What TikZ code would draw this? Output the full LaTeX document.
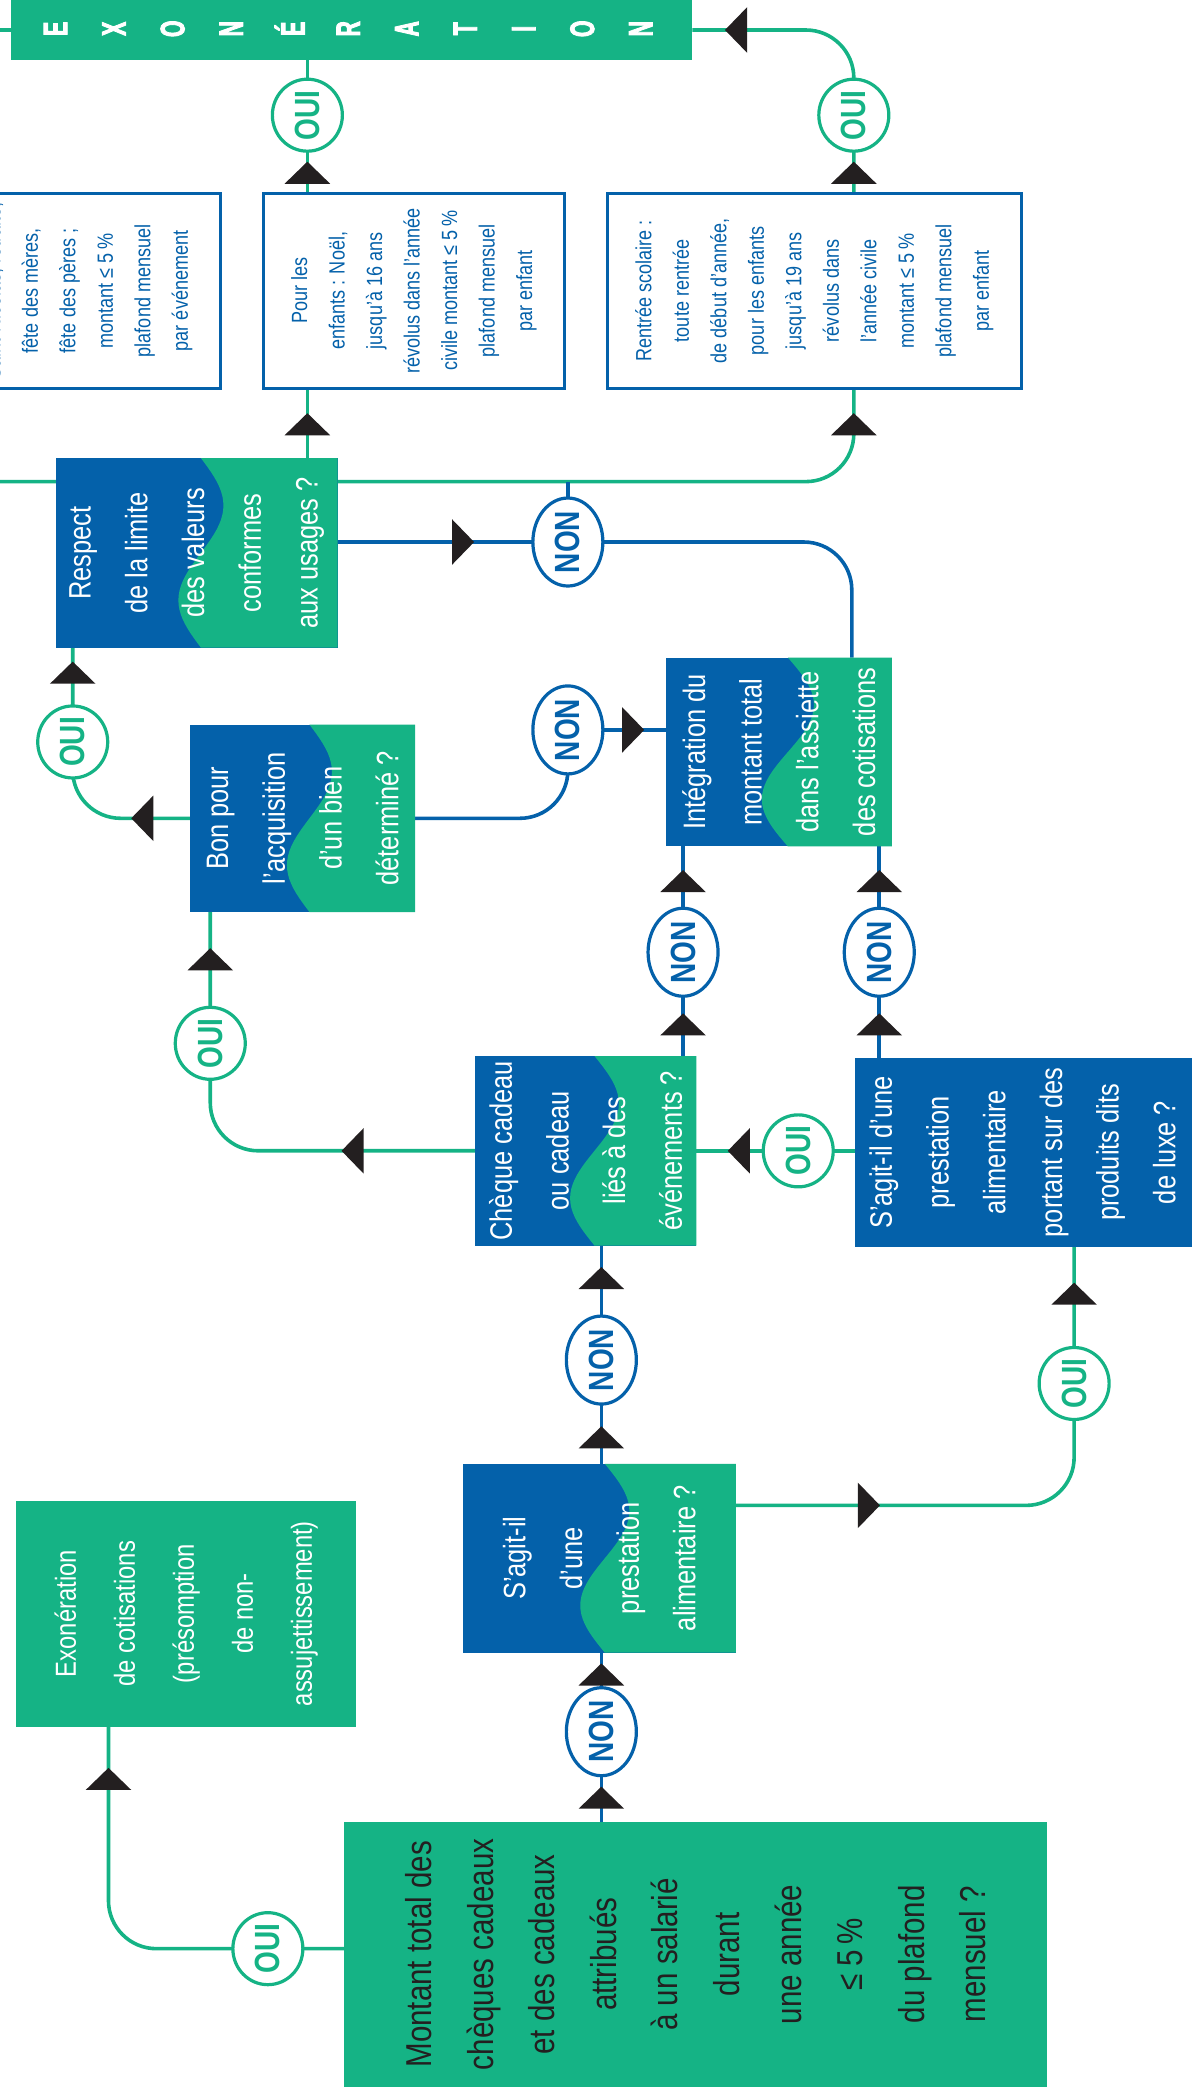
\documentclass[tikz,border=0pt]{standalone}
\usepackage{fontspec}
\setmainfont{Liberation Sans}[FakeStretch=0.82]
\newfontfamily\barfont{Liberation Sans}[FakeStretch=0.62,FakeBold=2.5]
\newfontfamily\ouifont{Liberation Sans}[FakeStretch=0.8]
\usetikzlibrary{shapes.geometric,fit,calc}
\definecolor{gr}{HTML}{15B385}
\definecolor{bl}{HTML}{0461AA}
\definecolor{ink}{HTML}{231F20}
\pgfdeclarelayer{bg}
\pgfsetlayers{bg,main}
% green wave region of a two-tone box: x1 y1 x2 y2 centre amplitude
\newcommand{\wavefill}[6]{\fill[gr] plot[domain=0:1,samples=41,variable=\wv] ({#1+(#3-#1)*(#5+#6*sin(360*\wv))},{#2+(#4-#2)*\wv}) -- (#3,#4) -- (#3,#2) -- cycle;}
\newcommand{\arrUp}[2]{\fill[ink] (#1-17,#2+16.5) -- (#1,#2) -- (#1+17,#2+16.5) -- cycle;}
\newcommand{\arrLeft}[2]{\fill[ink] (#1+16.5,#2-17) -- (#1,#2) -- (#1+16.5,#2+17) -- cycle;}
\newcommand{\arrRight}[2]{\fill[ink] (#1-16.5,#2-17) -- (#1,#2) -- (#1-16.5,#2+17) -- cycle;}
\begin{document}
\begin{tikzpicture}[x=1.33933pt,y=-1.33929pt,
  gline/.style={draw=gr,line width=3.6pt},
  bline/.style={draw=bl,line width=3.6pt},
  ouinode/.style={ellipse,draw=gr,fill=white,line width=3.2pt,minimum width=70pt,minimum height=72pt,inner sep=0pt,text=gr,font=\ouifont\bfseries\fontsize{35}{35}\selectfont},
  nonnode/.style={ouinode,draw=bl,text=bl},
  boxfit/.style={inner sep=0pt,outer sep=0pt},
  smallbox/.style={boxfit,draw=bl,line width=3pt,fill=white},
  midtext/.style={rotate=90,align=center,text=white,font=\fontsize{31}{56.7}\selectfont},
  smalltext/.style={rotate=90,align=center,text=bl,font=\fontsize{22}{37.5}\selectfont},
  bigtext/.style={rotate=90,align=center,text=ink,font=\fontsize{36}{61.6}\selectfont},
  exotext/.style={rotate=90,align=center,text=white,font=\fontsize{29}{59}\selectfont},
  barletter/.style={rotate=90,text=white,inner sep=0pt,font=\barfont\bfseries\fontsize{34}{34}\selectfont}]
\useasboundingbox (0,0) rectangle (890,1568);

% ---------- top bar ----------
\node[boxfit,fill=gr,fit={(8.2,0) (517,44.8)}] (bar) {};
\foreach \L [count=\i from 0] in {E,X,O,N,É,R,A,T,I,O,N}
  \node[barletter] (bl\i) at ({41.5+43.7*\i},21.5) {\L};

% ---------- event boxes ----------
\node[smallbox,fit={(-40,144.4) (165,290)}] (evt) {};
\node[smalltext] (evtT) at (66,217.2) {Saint-Nicolas, retraite,\\fête des mères,\\fête des pères ;\\montant ≤ 5\,\%\\plafond mensuel\\par événement};
\node[smallbox,fit={(196.5,144.4) (421.5,290)}] (pour) {};
\node[smalltext] (pourT) at (pour.center) {Pour les\\enfants : Noël,\\jusqu’à 16 ans\\révolus dans l’année\\civile montant ≤ 5\,\%\\plafond mensuel\\par enfant};
\node[smallbox,fit={(453.4,144.4) (762.7,290)}] (rentree) {};
\node[smalltext] (rentreeT) at (rentree.center) {Rentrée scolaire :\\toute rentrée\\de début d’année,\\pour les enfants\\jusqu’à 19 ans\\révolus dans\\l’année civile\\montant ≤ 5\,\%\\plafond mensuel\\par enfant};

% ---------- decision boxes ----------
\node[boxfit,fill=bl,fit={(41.7,342) (252,483.6)}] (resp) {};
\wavefill{41.7}{342}{252}{483.6}{0.515}{0.08}
\node[midtext] (respT) at (resp.center) {Respect\\de la limite\\des valeurs\\conformes\\aux usages~?};

\node[boxfit,fill=bl,fit={(142,541) (310,681)}] (bon) {};
\wavefill{142}{541}{310}{681}{0.53}{0.1}
\node[midtext] (bonT) at (bon.center) {Bon pour\\l’acquisition\\d’un bien\\déterminé~?};

\node[boxfit,fill=bl,fit={(497,491) (666,632)}] (integ) {};
\wavefill{497}{491}{666}{632}{0.54}{0.115}
\node[midtext] (integT) at (integ.center) {Intégration du\\montant total\\dans l’assiette\\des cotisations};

\node[boxfit,fill=bl,fit={(354.5,788.5) (520,930)}] (cheq) {};
\wavefill{354.5}{788.5}{520}{930}{0.54}{0.11}
\node[midtext] (cheqT) at (cheq.center) {Chèque cadeau\\ou cadeau\\liés à des\\événements~?};

\node[boxfit,fill=bl,fit={(638.5,790) (900,931)}] (luxe) {};
\node[midtext] (luxeT) at ($(luxe.west)+(125,0)$) {S’agit-il d’une\\prestation\\alimentaire\\portant sur des\\produits dits\\de luxe~?};

\node[boxfit,fill=bl,fit={(345.6,1093) (549.4,1234)}] (presta) {};
\wavefill{345.6}{1093}{549.4}{1234}{0.52}{0.09}
\node[midtext] (prestaT) at (presta.center) {S’agit-il\\d’une\\prestation\\alimentaire~?};

\node[boxfit,fill=gr,fit={(257,1360.4) (782,1558)}] (big) {};
\node[bigtext] (bigT) at (big.center) {Montant total des\\chèques cadeaux\\et des cadeaux\\attribués\\à un salarié\\durant\\une année\\≤ 5\,\%\\du plafond\\mensuel~?};

\node[boxfit,fill=gr,fit={(12,1120.4) (266,1289.3)}] (exo) {};
\node[exotext] (exoT) at (exo.center) {Exonération\\de cotisations\\(présomption\\de non-\\assujettissement)};

% ---------- OUI / NON ----------
\node[ouinode] (oT1) at (229.5,86) {\rotatebox{90}{OUI}};
\node[ouinode] (oT2) at (637.5,86) {\rotatebox{90}{OUI}};
\node[ouinode] (oResp) at (54.3,554) {\rotatebox{90}{OUI}};
\node[nonnode] (nA) at (424,404.7) {\rotatebox{90}{NON}};
\node[nonnode] (nB) at (424,545) {\rotatebox{90}{NON}};
\node[ouinode] (oBon) at (157,779) {\rotatebox{90}{OUI}};
\node[nonnode] (nC) at (510,711) {\rotatebox{90}{NON}};
\node[nonnode] (nD) at (656.5,711) {\rotatebox{90}{NON}};
\node[ouinode] (oL) at (596,859.3) {\rotatebox{90}{OUI}};
\node[nonnode] (nE) at (449,1015.5) {\rotatebox{90}{NON}};
\node[ouinode] (oP) at (802,1033) {\rotatebox{90}{OUI}};
\node[nonnode] (nF) at (449,1293) {\rotatebox{90}{NON}};
\node[ouinode] (oBig) at (200,1455) {\rotatebox{90}{OUI}};

% ---------- helper coordinates ----------
\coordinate (cR) at (637.5,0);
\coordinate (cI) at (636,0);
\coordinate (cE) at (81,0);
\coordinate (offL) at (-10,22.4);
\coordinate (offL2) at (-10,359.6);
\coordinate (pOut) at ($(presta.north east)!0.22!(presta.south east)$);

% ---------- connectors ----------
\begin{pgfonlayer}{bg}
\draw[gline] (offL) -- (bar.west);
\draw[gline] (oT1 |- bar.south) -- (oT1 |- pour.north);
\draw[gline,rounded corners=48pt] (bar.east) -- (oT2 |- bar.east) -- (oT2 |- rentree.north);
\draw[gline] (oT1 |- pour.south) -- (oT1 |- resp.north);
\draw[gline,rounded corners=48pt] (offL2) -- (cR |- offL2) -- (cR |- rentree.south);
\draw[gline,rounded corners=48pt] (oResp |- resp.south) -- (oResp |- bon.west) -- (bon.west);
\draw[bline,rounded corners=48pt] (resp.east |- nA) -- (cI |- nA) -- (cI |- integ.north);
\draw[bline] (nA.center) -- (nA |- offL2);
\draw[bline,rounded corners=48pt] (bon.east) -- (nB |- bon.east) -- (nB.center);
\draw[bline] (nB.center) -- (integ.west |- nB);
\draw[gline,rounded corners=48pt] (cheq.west) -- (oBon |- cheq.west) -- (oBon |- bon.south);
\draw[bline] (nC |- cheq.north) -- (nC |- integ.south);
\draw[bline] (nD |- luxe.north) -- (nD |- integ.south);
\draw[gline] (luxe.west |- oL) -- (cheq.east |- oL);
\draw[bline] (nE |- presta.north) -- (nE |- cheq.south);
\draw[gline,rounded corners=48pt] (pOut) -- (oP |- pOut) -- (oP |- luxe.south);
\draw[bline] (nF |- big.north) -- (nF |- presta.south);
\draw[gline,rounded corners=48pt] (big.west |- oBig) -- (cE |- oBig) -- (cE |- exo.south);
\end{pgfonlayer}

% ---------- arrowheads ----------
\arrUp{229.5}{120.7}
\arrUp{637.5}{120.7}
\arrUp{229.5}{308.5}
\arrUp{637.5}{308.5}
\arrUp{54.3}{494}
\arrUp{157}{708}
\arrUp{510}{649.6}
\arrUp{656.5}{649.6}
\arrUp{510}{756.6}
\arrUp{656.5}{756.6}
\arrUp{449}{946}
\arrUp{449}{1065}
\arrUp{802}{957.7}
\arrUp{449}{1242}
\arrUp{449}{1334}
\arrUp{81}{1320}
\arrLeft{541.3}{22.4}
\arrLeft{98}{611}
\arrLeft{255}{859.3}
\arrLeft{543.4}{859.3}
\arrRight{354}{404.7}
\arrRight{481}{545}
\arrRight{657}{1124}
\end{tikzpicture}
\end{document}
